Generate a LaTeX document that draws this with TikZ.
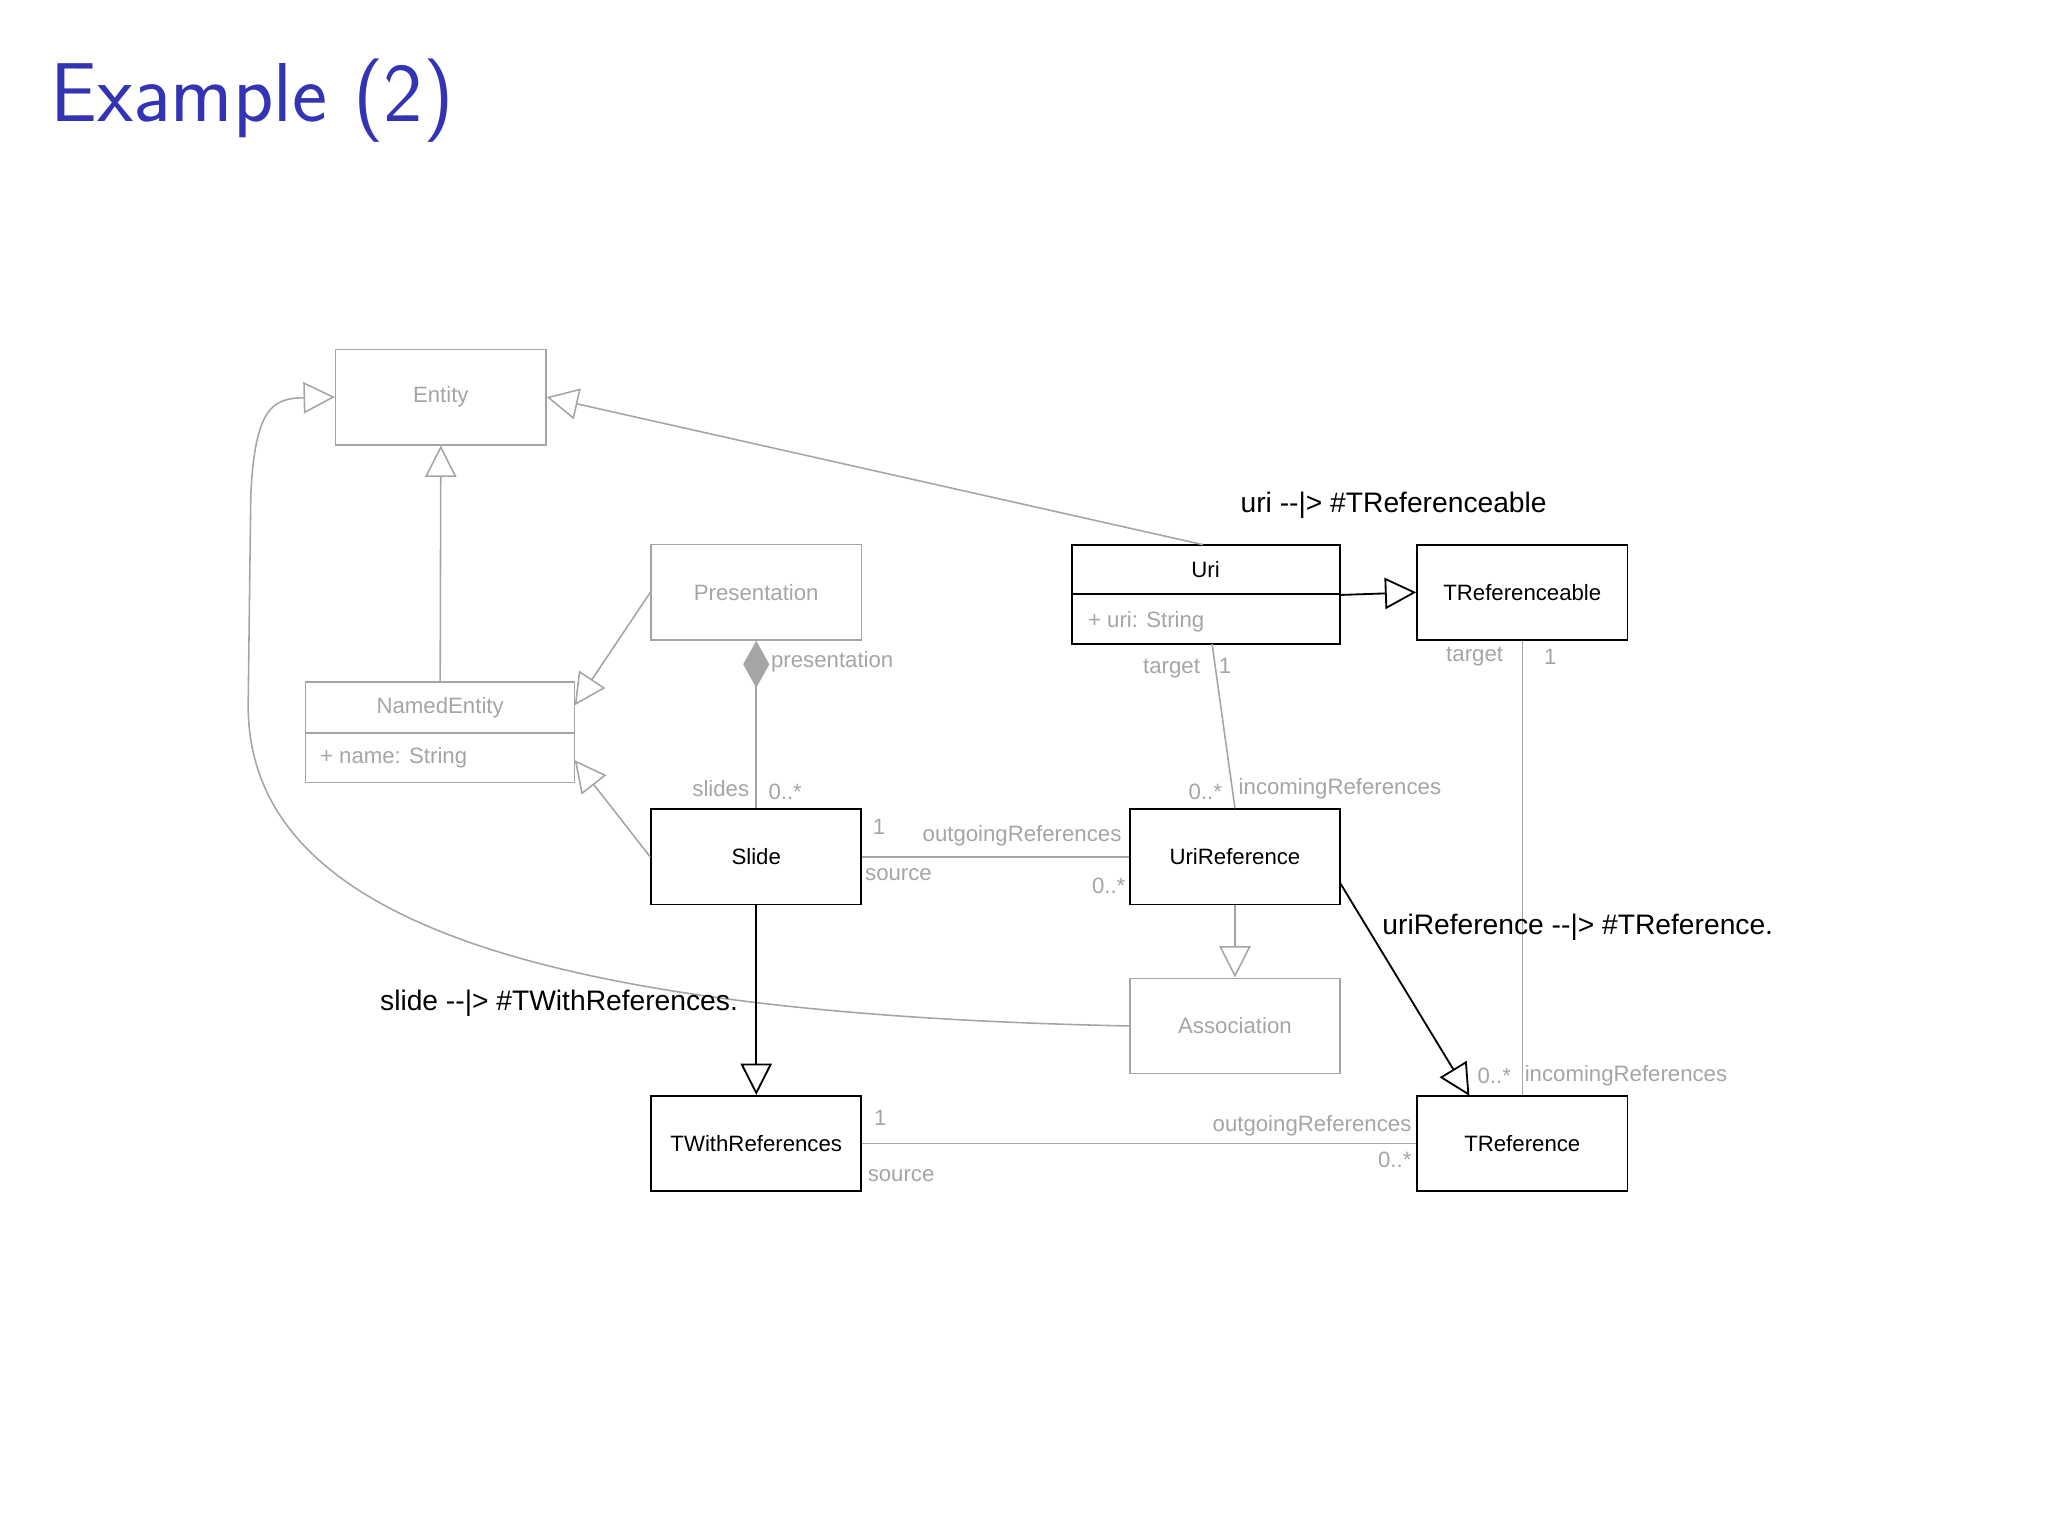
\documentclass[tikz,border=0pt]{standalone}
\usepackage{fontspec}
\newfontfamily\diag{Liberation Sans}
\usetikzlibrary{arrows.meta}
\definecolor{titleblue}{RGB}{51,51,179}
\definecolor{lg}{RGB}{165,165,165}
\begin{document}
\sffamily
\begin{tikzpicture}[x=0.5pt,y=-0.5pt,
  gbox/.style={draw=lg,text=lg,minimum width=80.5pt,minimum height=36.5pt,inner sep=0pt,font=\diag\fontsize{8.5}{10}\selectfont,line width=0.6pt},
  bbox/.style={draw=black,text=black,minimum width=80.5pt,minimum height=36.5pt,inner sep=0pt,font=\diag\fontsize{8.5}{10}\selectfont,line width=0.7pt},
  ginh/.style={draw=lg,line width=0.6pt,-{Triangle[open,length=12pt,width=12pt,fill=white]}},
  binh/.style={draw=black,line width=0.7pt,-{Triangle[open,length=12pt,width=12pt,fill=white]}},
  gass/.style={draw=lg,line width=0.6pt},
  lab/.style={text=lg,font=\diag\fontsize{8.5}{10}\selectfont,inner sep=1pt},
  blab/.style={text=black,font=\diag\fontsize{10.8}{12}\selectfont,inner sep=0pt}]
\useasboundingbox (0,0) rectangle (1568,1176);
\node[anchor=base west,text=titleblue,font=\fontsize{32}{38}\selectfont,inner sep=0pt] (title) at (38,93) {Example (2)};

\node[gbox] (entity) at (337.5,304) {Entity};
\node[gbox,minimum width=103pt,minimum height=38.5pt] (named) at (337,560.5) {};
\draw[lg,line width=0.6pt] (234,561) -- (440,561);
\node[text=lg,font=\diag\fontsize{8.5}{10}\selectfont] (namedt) at (337,542) {NamedEntity};
\node[text=lg,font=\diag\fontsize{8.5}{10}\selectfont,anchor=west] (namea) at (238,580) {+ name: String};
\node[gbox] (pres) at (579,453.5) {Presentation};
\node[bbox] (slide) at (579,656) {Slide};
\node[bbox,minimum width=102.5pt,minimum height=38pt] (uri) at (923.5,455) {};
\draw[line width=0.7pt] (821,455) -- (1026,455);
\node[font=\diag\fontsize{8.5}{10}\selectfont] (urit) at (923,436) {Uri};
\node[text=lg,font=\diag\fontsize{8.5}{10}\selectfont,anchor=west] (uria) at (826,476) {+ uri: String};
\node[bbox] (tref) at (1165.5,453.5) {TReferenceable};
\node[bbox] (uriref) at (945.5,656) {UriReference};
\node[gbox] (assoc) at (945.5,785.5) {Association};
\node[bbox] (twr) at (579,875.5) {TWithReferences};
\node[bbox] (tr) at (1165.5,875.5) {TReference};

\coordinate (n1) at (337,522);
\draw[ginh] (n1) -- (entity.south);
\coordinate (u1) at (921,417);
\draw[ginh] (u1) -- (entity.east);
\coordinate (n2) at (440,540);
\draw[ginh] (pres.west) -- (n2);
\coordinate (n3) at (440,582);
\draw[ginh] (slide.west) -- (n3);
\draw[gass,{Diamond[length=18pt,width=10pt,fill=lg]}-] (pres.south) -- (slide.north);
\node[lab,anchor=west] (l1) at (588,507) {presentation};
\node[lab,anchor=east] (l2) at (576,604) {slides};
\node[lab,anchor=west] (l3) at (586,606) {0..*};
\draw[gass] (slide.east) -- (uriref.west);
\node[lab] (l4) at (673,633) {1};
\node[lab,anchor=west] (l5) at (704,640) {outgoingReferences};
\node[lab,anchor=west] (l6) at (660,670) {source};
\node[lab,anchor=east] (l7) at (864,678) {0..*};
\coordinate (u2) at (928,493);
\draw[gass] (u2) -- (uriref.north);
\node[lab] (l8) at (897,512) {target};
\node[lab] (l9) at (938,510) {1};
\node[lab,anchor=east] (l10) at (938,606) {0..*};
\node[lab,anchor=west] (l11) at (946,604) {incomingReferences};
\draw[ginh] (uriref.south) -- (assoc.north);
\draw[ginh] (assoc.west) .. controls (400,776) and (190,700) .. (190,540) -- (192,380) .. controls (195,310) and (210,305) .. (entity.west);
\draw[binh] (slide.south) -- (twr.north);
\draw[binh] (uri.east |- 0,455.5) -- (tref.west);
\coordinate (ur2) at (1026,676);
\coordinate (tr2) at (1125,839);
\draw[binh] (ur2) -- (tr2);
\draw[gass] (tref.south) -- (tr.north);
\node[lab] (l12) at (1129,503) {target};
\node[lab] (l13) at (1187,503) {1};
\node[lab] (l14) at (1144,824) {0..*};
\node[lab,anchor=west] (l15) at (1165,824) {incomingReferences};
\draw[gass] (twr.east) -- (tr.west);
\node[lab] (l16) at (674,856) {1};
\node[lab,anchor=west] (l17) at (662,900) {source};
\node[lab,anchor=east] (l18) at (1083,862) {outgoingReferences};
\node[lab,anchor=east] (l19) at (1083,888) {0..*};

\node[blab] (b1) at (1067,387) {uri -{}-|> \#TReferenceable};
\node[blab,anchor=west] (b2) at (1058,710) {uriReference -{}-|> \#TReference.};
\node[blab] (b3) at (428,768) {slide -{}-|> \#TWithReferences.};
\end{tikzpicture}
\end{document}
